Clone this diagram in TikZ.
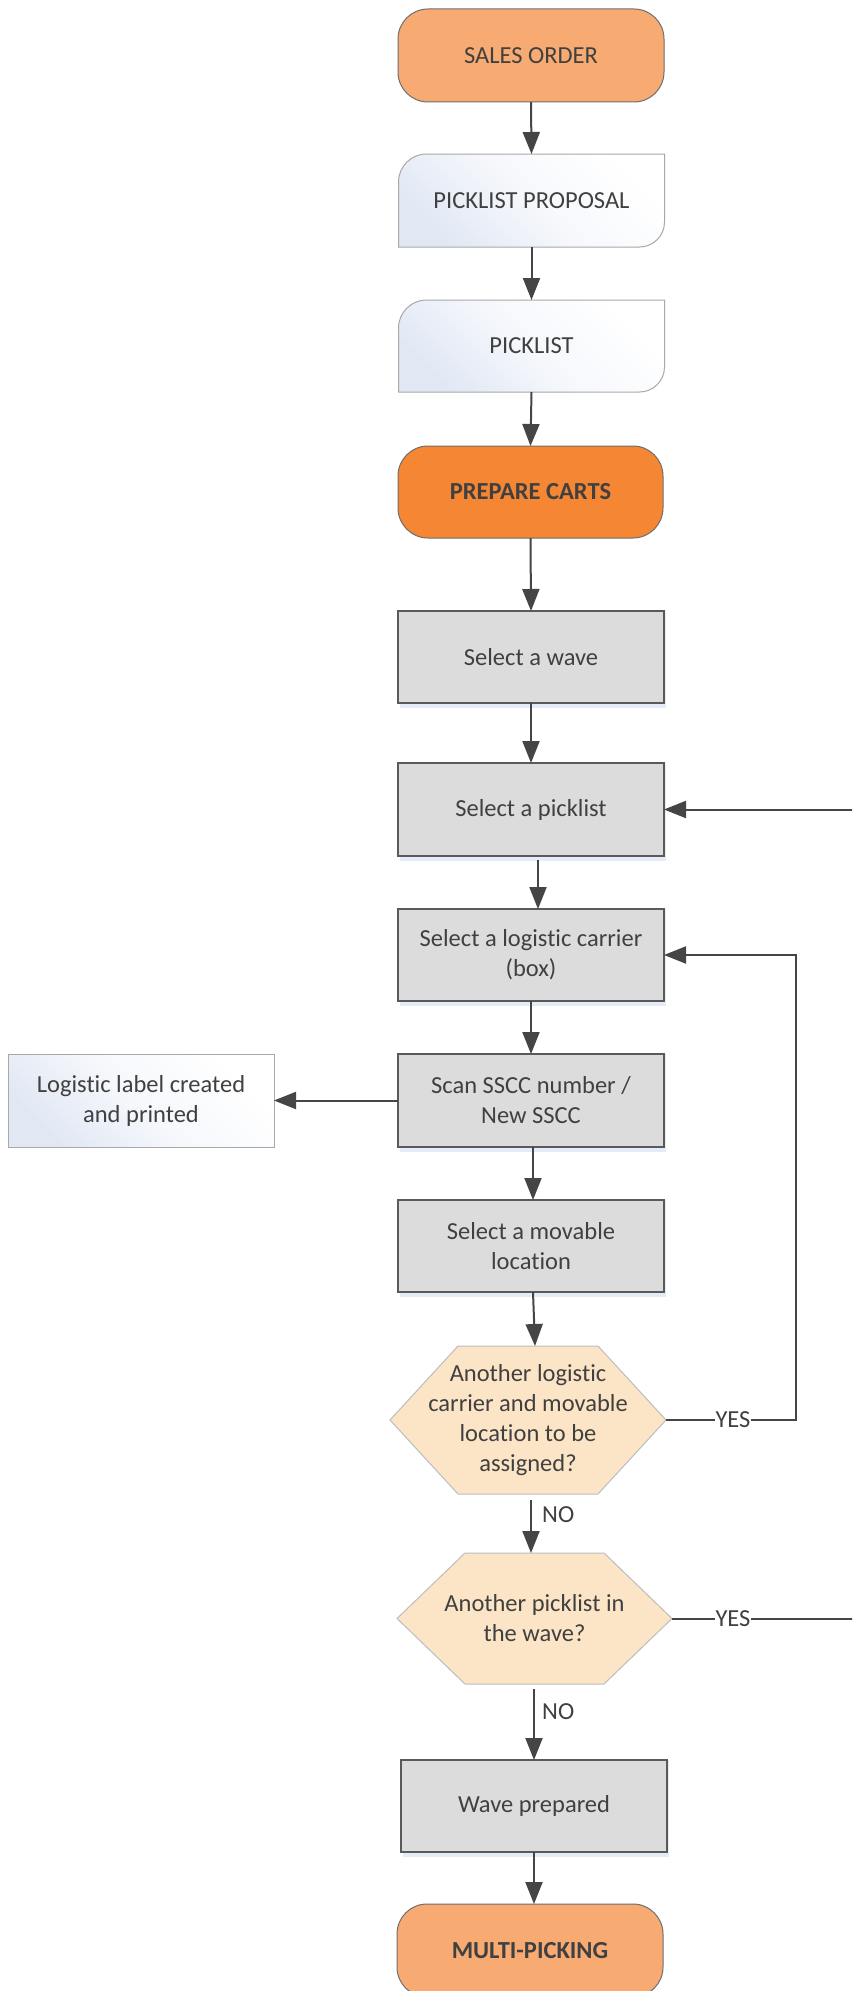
\documentclass[tikz,border=0pt]{standalone}
\usepackage{fontspec}
\setmainfont[Ligatures=NoCommon]{Carlito}
\usetikzlibrary{arrows.meta,calc}
\pgfdeclarelayer{background}
\pgfdeclarelayer{canvas}
\pgfsetlayers{canvas,background,main}
\definecolor{txt}{HTML}{404040}
\definecolor{lnc}{HTML}{454545}
\definecolor{termlight}{HTML}{F7AB73}
\definecolor{termdark}{HTML}{F58634}
\definecolor{termbd}{HTML}{6E6E6E}
\definecolor{procfill}{HTML}{DCDCDC}
\definecolor{procbd}{HTML}{5A5A5A}
\definecolor{docblue}{HTML}{E1E8F4}
\definecolor{docmid}{HTML}{F6F8FC}
\definecolor{docbd}{HTML}{A8A8A8}
\definecolor{hexfill}{HTML}{FCE5C6}
\definecolor{hexbd}{HTML}{BDBDBD}
\definecolor{shad}{HTML}{E4ECF7}
\tikzset{
  base/.style={minimum width=266pt, minimum height=93pt, inner sep=2pt, outer sep=0pt,
    align=center, text=txt, font=\fontsize{24.5}{30}\selectfont},
  termbox/.style={base, rounded corners=30pt, draw=termbd, line width=1pt},
  procbox/.style={base, fill=procfill, draw=procbd, line width=1.2pt},
  docnode/.style={base},
  docpaint/.style={draw=docbd, line width=1pt, shading=axis, top color=white, bottom color=docblue, middle color=docmid, shading angle=-45},
  hexnode/.style={base, minimum width=276pt},
  hexpaint/.style={draw=hexbd, line width=1pt, fill=hexfill},
  flow/.style={draw=lnc, line width=2pt, -{Triangle[length=22pt,width=17pt]}},
  lab/.style={font=\fontsize{24.5}{30}\selectfont, text=txt, inner sep=1pt, fill=white},
}
\begin{document}
\begin{tikzpicture}[x=1pt,y=1pt]
\useasboundingbox (0,0) rectangle (852,-1991);
\clip (0,0) rectangle (852,-1991);
\begin{pgfonlayer}{canvas}
\fill[white] (0,0) rectangle (852,-1991);
\end{pgfonlayer}

\node[termbox, fill=termlight] (so) at (531,-55.5) {SALES ORDER};
\node[docnode] (pp) at (531.5,-200.5) {PICKLIST PROPOSAL};
\node[docnode, minimum height=92pt] (pl) at (531.5,-346) {PICKLIST};
\node[termbox, fill=termdark, font=\fontsize{24.5}{30}\selectfont\bfseries, minimum width=265pt, minimum height=92pt] (pc) at (530.5,-492) {PREPARE CARTS};
\node[procbox, minimum height=92pt] (sw) at (531,-657) {Select a wave};
\node[procbox] (sp) at (531,-809.5) {Select a picklist};
\node[procbox, minimum height=92pt] (sc) at (531,-955) {Select a logistic carrier\\(box)};
\node[procbox] (scan) at (531,-1100.5) {Scan SSCC number /\\New SSCC};
\node[docnode] (ll) at (141,-1100.5) {Logistic label created\\and printed};
\node[procbox, minimum height=92pt] (mv) at (531,-1246) {Select a movable\\location};
\node[hexnode, minimum height=148pt] (h1) at (528,-1420) {Another logistic\\carrier and movable\\location to be\\assigned?};
\node[hexnode, minimum width=275pt, minimum height=131pt] (h2) at (534.5,-1618.5) {Another picklist in\\the wave?};
\node[procbox, minimum height=92pt] (wp) at (534,-1806) {Wave prepared};
\node[termbox, fill=termlight, font=\fontsize{24.5}{30}\selectfont\bfseries] (mp) at (530,-1950.5) {MULTI-PICKING};

\begin{pgfonlayer}{background}
  \foreach \n in {sw,sp,sc,scan,mv,wp}{
    \fill[shad] ([xshift=2pt,yshift=-5pt]\n.south west) rectangle ([xshift=2pt]\n.north east);
  }
  \foreach \n in {pp,pl}{
    \path[docpaint] (\n.south west) -- ([yshift=-28pt]\n.north west)
      arc[start angle=180, end angle=90, radius=28pt] -- (\n.north east)
      -- ([yshift=25pt]\n.south east) arc[start angle=0, end angle=-90, radius=25pt] -- cycle;
  }
  \path[docpaint] (ll.south west) rectangle (ll.north east);
  \path[hexpaint] (h1.west) -- ([xshift=68pt]h1.north west) -- ([xshift=-68pt]h1.north east)
    -- (h1.east) -- ([xshift=-68pt]h1.south east) -- ([xshift=68pt]h1.south west) -- cycle;
  \path[hexpaint] (h2.west) -- ([xshift=68pt]h2.north west) -- ([xshift=-68pt]h2.north east)
    -- (h2.east) -- ([xshift=-68pt]h2.south east) -- ([xshift=68pt]h2.south west) -- cycle;
\end{pgfonlayer}

\draw[flow] (so.south) -- (pp.north);
\draw[flow] (pp.south) -- (pl.north);
\draw[flow] (pl.south) -- (pc.north);
\draw[flow] (pc.south) -- (sw.north);
\draw[flow] (sw.south) -- (sp.north);
\draw[flow, shorten <=4pt] ([xshift=7pt]sp.south) -- ([xshift=7pt]sc.north);
\draw[flow] (sc.south) -- (scan.north);
\draw[flow] ([xshift=2pt]scan.south) -- ([xshift=2pt]mv.north);
\draw[flow] ([xshift=2pt]mv.south) -- ([xshift=7pt]h1.north);
\draw[flow, shorten <=6pt] ([xshift=3pt]h1.south) -- ([xshift=-3.5pt]h2.north);
\node[lab, fill=none, anchor=west] (no1) at (541,-1515) {NO};
\draw[flow, shorten <=5pt] ([xshift=-0.5pt]h2.south) -- (wp.north);
\node[lab, fill=none, anchor=west] (no2) at (541,-1712) {NO};
\draw[flow] (wp.south) -- ([xshift=4pt]mp.north);

\draw[flow] (scan.west) -- (ll.east);

\coordinate (r1) at (796,-1420);
\coordinate (r1t) at (796,-955);
\draw[flow] (h1.east) -- (r1) -- (r1t) -- (sc.east);
\node[lab] (yes1) at (733,-1420) {YES};

\coordinate (r2) at (880,-1618.5);
\coordinate (r2t) at (880,-809.5);
\draw[flow] (h2.east) -- (r2) -- (r2t) -- (sp.east);
\node[lab] (yes2) at (733,-1618.5) {YES};
\end{tikzpicture}
\end{document}
